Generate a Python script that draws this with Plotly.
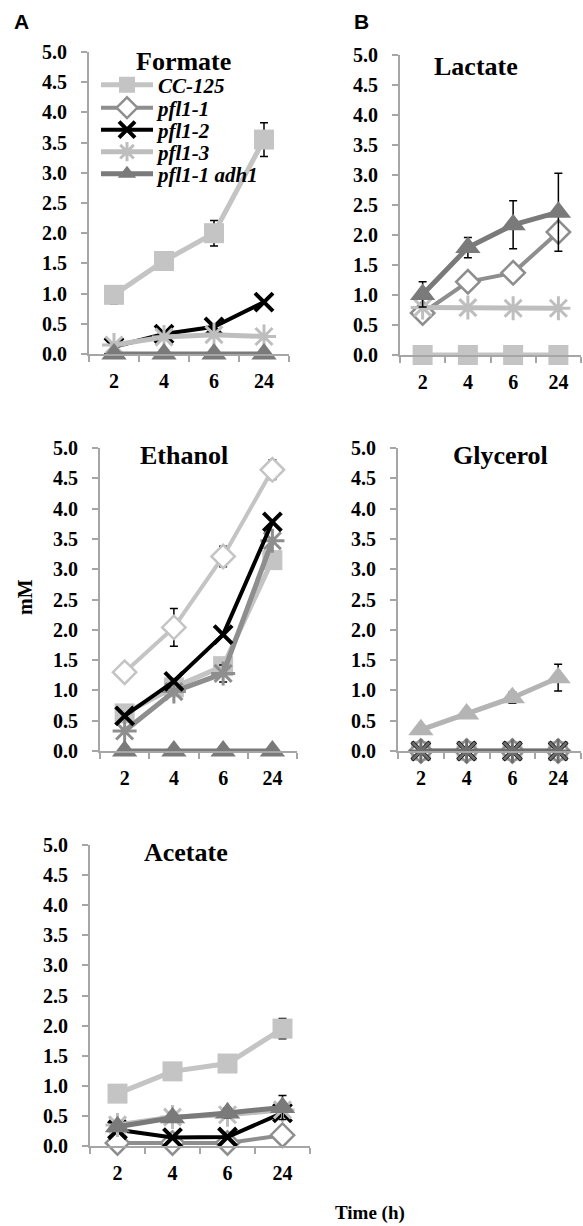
import plotly.graph_objects as go

W, H = 583, 1226

times = ["2", "4", "6", "24"]
strains = ["CC-125", "pfl1-1", "pfl1-2", "pfl1-3", "pfl1-1 adh1"]

# ---- Formate (mM) ----
formate_cc125 = [0.98, 1.54, 2.00, 3.55]
formate_pfl11 = [None, None, None, None]   # hidden behind the triangles at 0
formate_pfl12 = [0.12, 0.33, 0.45, 0.86]
formate_pfl13 = [0.15, 0.28, 0.32, 0.29]
formate_adh1 = [0.0, 0.0, 0.0, 0.0]
formate_cc125_err = [0.15, 0.14, 0.21, 0.28]

# ---- Lactate (mM) ----
lactate_cc125 = [0.0, 0.0, 0.0, 0.0]
lactate_pfl11 = [0.70, 1.22, 1.37, 2.05]
lactate_pfl13 = [0.79, 0.79, 0.78, 0.78]
lactate_adh1 = [1.01, 1.79, 2.17, 2.38]
lactate_adh1_err = [0.21, 0.17, 0.40, 0.65]

# ---- Ethanol (mM) ----
ethanol_cc125 = [0.62, 1.05, 1.40, 3.15]
ethanol_pfl11 = [1.30, 2.04, 3.21, 4.64]
ethanol_pfl12 = [0.58, 1.15, 1.92, 3.78]
ethanol_pfl13 = [0.33, 0.98, 1.28, 3.47]
ethanol_adh1 = [0.0, 0.0, 0.0, 0.0]
ethanol_pfl11_err = [0.0, 0.31, 0.17, 0.16]
ethanol_pfl13_err = [0.0, 0.0, 0.14, 0.0]

# ---- Glycerol (mM) ----
glycerol_cc125 = [0.0, 0.0, 0.0, 0.0]
glycerol_pfl11 = [0.0, 0.0, 0.0, 0.0]
glycerol_pfl12 = [0.0, 0.0, 0.0, 0.0]
glycerol_pfl13 = [0.0, 0.0, 0.0, 0.0]
glycerol_adh1 = [0.35, 0.61, 0.88, 1.21]
glycerol_adh1_err = [0.0, 0.06, 0.09, 0.22]

# ---- Acetate (mM) ----
acetate_cc125 = [0.87, 1.24, 1.37, 1.95]
acetate_pfl11 = [0.05, 0.05, 0.05, 0.18]
acetate_pfl12 = [0.27, 0.14, 0.15, 0.55]
acetate_pfl13 = [0.35, 0.48, 0.52, 0.60]
acetate_adh1 = [0.32, 0.47, 0.55, 0.64]
acetate_cc125_err = [0.0, 0.0, 0.0, 0.17]
acetate_adh1_err = [0.0, 0.0, 0.08, 0.20]

LIGHT = "#c4c4c4"
MID = "#8e8e8e"
DARK = "#7a7a7a"

base_style = {
    "CC-125": dict(color=LIGHT, symbol="square", size=20, lw=5, fill=LIGHT, mlw=0),
    "pfl1-1": dict(color=MID, symbol="diamond", size=18, lw=4, fill="white", mlw=2.5),
    "pfl1-2": dict(color="#000000", symbol="x-thin-open", size=18, lw=4, fill="#000000", mlw=4),
    "pfl1-3": dict(color="#bebebe", symbol="asterisk-open", size=20, lw=5, fill="#bebebe", mlw=3),
    "pfl1-1 adh1": dict(color=DARK, symbol="triangle-up", size=22, lw=5, fill=DARK, mlw=0),
}

# per-panel colour overrides seen in the figure
overrides = {
    ("ethanol", "pfl1-1"): dict(color=LIGHT),
    ("ethanol", "pfl1-3"): dict(color=MID, fill=MID),
    ("glycerol", "pfl1-1 adh1"): dict(color="#b4b4b4", fill="#b4b4b4"),
    ("glycerol", "pfl1-3"): dict(color="#6e6e6e", fill="#6e6e6e"),
}

# panel geometry in pixels: x0, x1, ytop, ybottom
panels = {
    "formate": dict(n=1, box=(89, 289, 52, 354), title="Formate", tpos=(183, 61),
                    data={"CC-125": (formate_cc125, formate_cc125_err), "pfl1-1": (formate_pfl11, None),
                          "pfl1-2": (formate_pfl12, None), "pfl1-3": (formate_pfl13, None),
                          "pfl1-1 adh1": (formate_adh1, None)}),
    "lactate": dict(n=2, box=(400, 581, 55, 355), title="Lactate", tpos=(476, 67),
                    data={"CC-125": (lactate_cc125, None), "pfl1-1": (lactate_pfl11, None),
                          "pfl1-3": (lactate_pfl13, None), "pfl1-1 adh1": (lactate_adh1, lactate_adh1_err)}),
    "ethanol": dict(n=3, box=(100, 297, 448, 751), title="Ethanol", tpos=(184, 456),
                    data={"CC-125": (ethanol_cc125, None), "pfl1-1": (ethanol_pfl11, ethanol_pfl11_err),
                          "pfl1-3": (ethanol_pfl13, ethanol_pfl13_err), "pfl1-2": (ethanol_pfl12, None),
                          "pfl1-1 adh1": (ethanol_adh1, None)}),
    "glycerol": dict(n=4, box=(398, 581, 448, 751), title="Glycerol", tpos=(500, 456),
                     data={"CC-125": (glycerol_cc125, None), "pfl1-1": (glycerol_pfl11, None),
                           "pfl1-2": (glycerol_pfl12, None), "pfl1-1 adh1": (glycerol_adh1, glycerol_adh1_err),
                           "pfl1-3": (glycerol_pfl13, None)}),
    "acetate": dict(n=5, box=(90, 310, 845, 1146), title="Acetate", tpos=(186, 852),
                    data={"CC-125": (acetate_cc125, acetate_cc125_err), "pfl1-1": (acetate_pfl11, None),
                          "pfl1-2": (acetate_pfl12, None), "pfl1-3": (acetate_pfl13, None),
                          "pfl1-1 adh1": (acetate_adh1, acetate_adh1_err)}),
}

SERIF = "Liberation Serif"
SANS = "Liberation Sans"
AXC = "#a6a6a6"

fig = go.Figure()
legend_ids = ["legend", "legend2", "legend3", "legend4", "legend5"]

for pname, p in panels.items():
    n = p["n"]
    xa = "x" if n == 1 else f"x{n}"
    ya = "y" if n == 1 else f"y{n}"
    for s, (vals, errs) in p["data"].items():
        st = dict(base_style[s])
        st.update(overrides.get((pname, s), {}))
        tr = go.Scatter(
            x=times, y=vals, xaxis=xa, yaxis=ya, name=s, mode="lines+markers",
            line=dict(color=st["color"], width=st["lw"]),
            marker=dict(symbol=st["symbol"], size=st["size"], color=st["fill"],
                        line=dict(color=st["color"], width=st["mlw"])),
            cliponaxis=False,
            showlegend=(pname == "formate"),
        )
        if pname == "formate":
            tr.legend = legend_ids[strains.index(s)]
        if errs is not None:
            tr.error_y = dict(type="data", array=errs, color="black", thickness=1.5, width=4, visible=True)
        fig.add_trace(tr)

layout = dict(
    template="none",
    width=W, height=H, margin=dict(l=0, r=0, t=0, b=0, pad=0, autoexpand=False),
    paper_bgcolor="white", plot_bgcolor="white", autosize=False,
)
for pname, p in panels.items():
    n = p["n"]
    x0, x1, yt, yb = p["box"]
    xk = "xaxis" if n == 1 else f"xaxis{n}"
    yk = "yaxis" if n == 1 else f"yaxis{n}"
    ya = "y" if n == 1 else f"y{n}"
    xa = "x" if n == 1 else f"x{n}"
    layout[xk] = dict(
        domain=[x0 / W, x1 / W], anchor=ya, type="category", categoryorder="array",
        categoryarray=times, range=[-0.5, 3.5], showline=True, linecolor=AXC, linewidth=2,
        ticks="outside", tickson="boundaries", ticklen=6, tickcolor=AXC, tickwidth=1.5,
        showgrid=False, zeroline=False, ticklabelstandoff=8, automargin=False,
        tickfont=dict(family=SERIF, size=20, color="black", weight="bold"),
    )
    layout[yk] = dict(
        domain=[1 - yb / H, 1 - yt / H], anchor=xa, range=[0, 5], dtick=0.5, tick0=0,
        tickformat=".1f", showline=True, linecolor=AXC, linewidth=2, ticks="outside",
        ticklen=6, tickcolor=AXC, tickwidth=1.5, showgrid=False, zeroline=False,
        ticklabelstandoff=10, automargin=False,
        tickfont=dict(family=SERIF, size=20, color="black", weight="bold"),
    )
fig.update_layout(**layout)

# one-item legends stacked to reproduce the tight legend of the figure
leg_y = [85, 108, 130, 152, 174]
for lid, yc in zip(legend_ids, leg_y):
    fig.update_layout({lid: dict(
        x=96 / W, xanchor="left", y=1 - yc / H, yanchor="middle",
        bgcolor="rgba(0,0,0,0)", borderwidth=0, itemwidth=52,
        font=dict(family=SERIF, size=21, color="black", weight="bold", style="italic"),
        tracegroupgap=0,
    )})

ann = []
for pname, p in panels.items():
    tx, ty = p["tpos"]
    ann.append(dict(text=p["title"], x=tx / W, y=1 - ty / H, xref="paper", yref="paper",
                    xanchor="center", yanchor="middle", showarrow=False,
                    font=dict(family=SERIF, size=26, color="black", weight="bold")))
ann.append(dict(text="A", x=21 / W, y=1 - 22 / H, xref="paper", yref="paper", showarrow=False,
                xanchor="center", yanchor="middle",
                font=dict(family=SANS, size=21, color="black", weight="bold")))
ann.append(dict(text="B", x=361 / W, y=1 - 22 / H, xref="paper", yref="paper", showarrow=False,
                xanchor="center", yanchor="middle",
                font=dict(family=SANS, size=21, color="black", weight="bold")))
ann.append(dict(text="mM", x=25 / W, y=1 - 597 / H, xref="paper", yref="paper", showarrow=False,
                textangle=-90, xanchor="center", yanchor="middle",
                font=dict(family=SERIF, size=20, color="black", weight="bold")))
ann.append(dict(text="Time (h)", x=370 / W, y=1 - 1213 / H, xref="paper", yref="paper",
                showarrow=False, xanchor="center", yanchor="middle",
                font=dict(family=SERIF, size=19, color="black", weight="bold")))
fig.update_layout(annotations=ann)

fig.write_html("out.html")
